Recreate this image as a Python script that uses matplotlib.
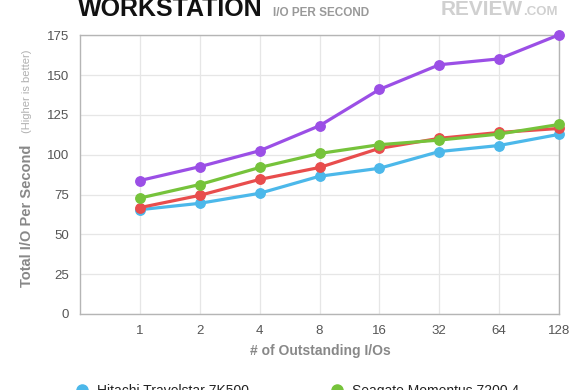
import matplotlib
matplotlib.use("Agg")
import matplotlib.pyplot as plt
from matplotlib.lines import Line2D

plt.rcParams['font.family'] = ['Liberation Sans', 'DejaVu Sans']

categories = ["1", "2", "4", "8", "16", "32", "64", "128"]
hitachi = [65.5, 69.5, 75.8, 86.5, 91.5, 102.0, 105.8, 112.8]
seagate = [72.8, 81.3, 92.0, 100.8, 106.3, 109.2, 113.0, 119.0]
red_series = [66.8, 74.5, 84.5, 92.0, 104.0, 110.3, 114.0, 116.5]
purple_series = [83.8, 92.5, 102.5, 118.2, 141.0, 156.5, 160.2, 175.3]
yticks = [0, 25, 50, 75, 100, 125, 150, 175]

series = [
    (purple_series, "#9b4fe6", None),
    (hitachi, "#4cb8ea", "Hitachi Travelstar 7K500"),
    (red_series, "#e84d4d", None),
    (seagate, "#76c33b", "Seagate Momentus 7200.4"),
]

fig = plt.figure(figsize=(5.8, 3.9), dpi=100)
ax = fig.add_axes([80/580, 1-314/390, (559-80)/580, (314-35.3)/390])

xs = list(range(1, len(categories)+1))
for vals, col, lab in [series[1], series[2], series[3], series[0]]:
    ax.plot(xs, vals, color=col, lw=2.3, marker='o', ms=6.8, mec=col, mfc=col,
            solid_capstyle='round', zorder=3, clip_on=False)

ax.set_xlim(0, len(categories))
ax.set_ylim(0, 175)
ax.set_xticks(xs)
ax.set_xticklabels(categories)
ax.set_yticks(yticks)
ax.grid(True, color="#e6e6e6", lw=0.9, zorder=0)
for s in ax.spines.values():
    s.set_color("#b5b5b5")
    s.set_linewidth(1.0)
ax.tick_params(length=0, colors="#555555", labelsize=9.5, pad=8)
ax.tick_params(axis='y', pad=8)

# axis labels
fig.text(320/580, 1-351/390, "# of Outstanding I/Os", ha='center', va='center',
         color="#888888", fontsize=10, fontweight='bold')
fig.text(27/580, 1-215.5/390, "Total I/O Per Second", rotation=90, ha='center', va='center',
         color="#888888", fontsize=10.5, fontweight='bold')
fig.text(27/580, 1-91/390, "(Higher is better)", rotation=90, ha='center', va='center',
         color="#b0b0b0", fontsize=8)

# title
fig.text(78/580, 1-16.5/390, "WORKSTATION", ha='left', va='baseline', color="#111111",
         fontsize=18, fontweight='bold')
fig.text(273/580, 1-16.5/390, "I/O PER SECOND", ha='left', va='baseline', color="#999999",
         fontsize=8.5, fontweight='bold')
fig.text(523/580, 1-15/390, "REVIEW", ha='right', va='baseline', color="#d0d0d0",
         fontsize=15, fontweight='bold')
fig.text(523/580, 1-15/390, ".COM", ha='left', va='baseline', color="#d0d0d0",
         fontsize=9.5, fontweight='bold')

# legend (bottom, partially cut off)
leg_pos = {"Hitachi Travelstar 7K500": 82, "Seagate Momentus 7200.4": 337}
for vals, col, lab in series:
    if lab is None:
        continue
    x0 = leg_pos[lab]
    fig.add_artist(Line2D([x0/580], [1-390/390], marker='o', ms=8, color=col,
                          transform=fig.transFigure, lw=0, clip_on=False))
    fig.text((x0+15)/580, 1-391/390, lab, ha='left', va='center', color="#222222",
             fontsize=10)

fig.savefig("out.png", dpi=100)
